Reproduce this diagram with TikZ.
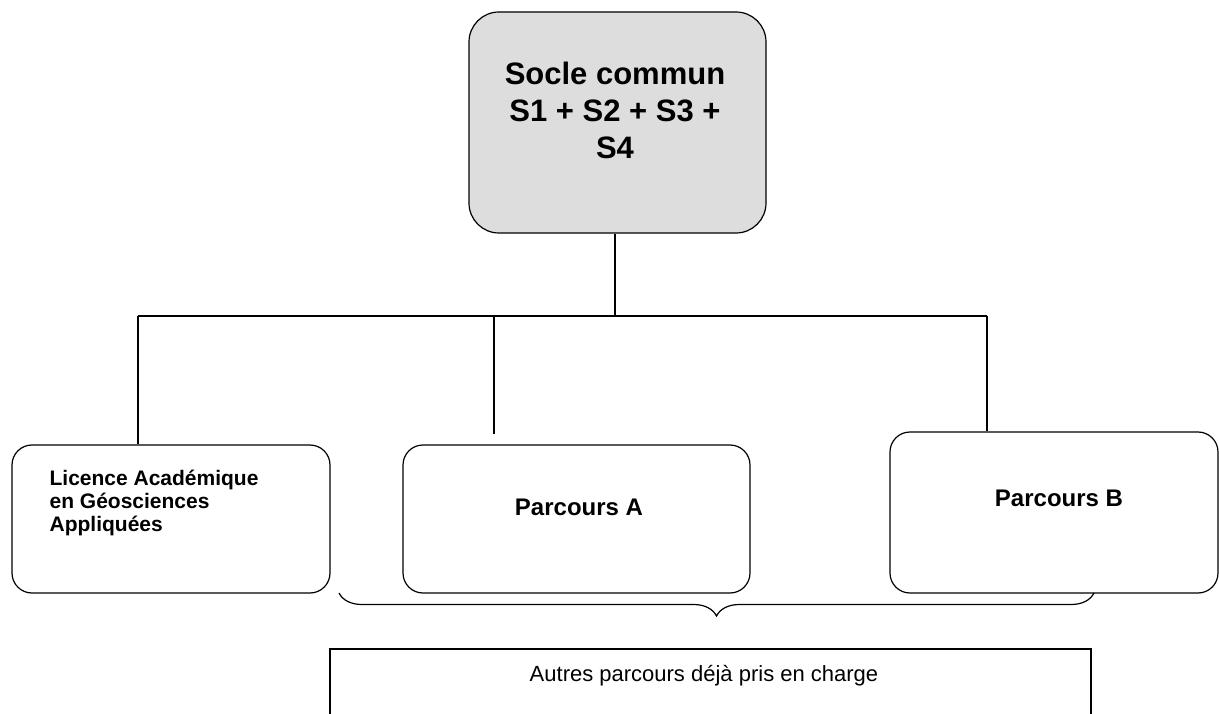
\documentclass[tikz,border=0pt]{standalone}
\usepackage{fontspec}
\setmainfont{Liberation Sans}
\usepackage{tikz}
\usetikzlibrary{positioning}
\usetikzlibrary{calc}
\usetikzlibrary{decorations.pathreplacing}
\definecolor{soclegray}{HTML}{DDDDDD}

\begin{document}
\begin{tikzpicture}[x=1pt,y=-1pt,line width=1.2pt,
					  main node/.style={draw,rectangle,rounded corners=30pt,fill=soclegray,minimum width=297pt,minimum height=221pt},
					  branch node/.style={draw,rectangle,rounded corners=20pt,inner sep=0pt},
					  big text/.style={align=center,font=\fontsize{31}{37}\selectfont\bfseries},
					  branch text/.style={font=\fontsize{24}{28}\selectfont\bfseries},
					  small text/.style={align=left,inner sep=0pt,font=\fontsize{21}{23}\selectfont\bfseries}]
					
					  \useasboundingbox (0,0) rectangle (1219,714);
					
					  \node[main node] (socle) at (617.5,122.5) {};
					  \node[big text] (socletext) at (615,110) {Socle commun\\S1 + S2 + S3 +\\S4};
					
					  \node[branch node,minimum width=318pt,minimum height=148pt] (licence) at (171,519) {};
					  \node[small text,anchor=west] (licencetext) at (49,503) {Licence Académique\\en Géosciences\\Appliquées};
					  \node[branch node,minimum width=347pt,minimum height=148pt] (parcoursA) at (576.5,519) {};
					  \node[branch text] (parcoursAtext) at (579,507) {Parcours A};
					  \node[branch node,minimum width=328pt,minimum height=161pt] (parcoursB) at (1054,512.5) {};
					  \node[branch text] (parcoursBtext) at (1059,498) {Parcours B};
					
					  \node[draw,rectangle,minimum width=761pt,minimum height=100pt] (autres) at (710.5,699) {};
					  \node[font=\fontsize{22}{26}\selectfont] (autrestext) at (704,676) {Autres parcours déjà pris en charge};
					
					  \coordinate (split) at (615,316);
					  \coordinate (jl) at (138,316);
					  \coordinate (jm) at (494,316);
					  \coordinate (jr) at (987,316);
					  \coordinate (amid) at (494,434);
					  \coordinate (bl) at (339,593);
					  \coordinate (br) at (1094,593);
					
					  \draw (split |- socle.south) -- (split);
					  \draw (jl) -- (jr);
					  \draw (jl) -- (jl |- licence.north);
					  \draw (jm) -- (amid);
					  \draw (jr) -- (jr |- parcoursB.north);
					  \draw[decorate,decoration={brace,mirror,amplitude=23pt}] (bl) -- (br);
					\end{tikzpicture}
\end{document}
